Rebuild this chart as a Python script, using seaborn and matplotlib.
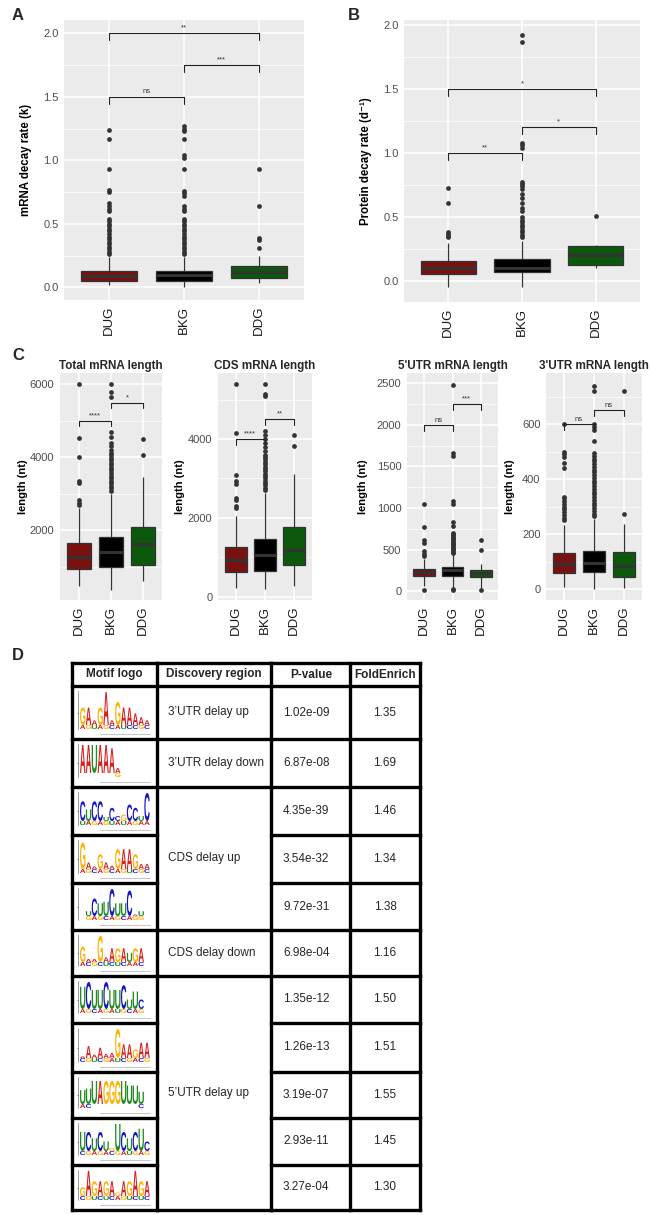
import matplotlib
matplotlib.use("Agg")
import matplotlib.pyplot as plt
import matplotlib.transforms as mtransforms
import pandas as pd
import seaborn as sns
from matplotlib.font_manager import FontProperties
from matplotlib.patches import PathPatch
from matplotlib.textpath import TextPath
from matplotlib.ticker import FormatStrFormatter, MultipleLocator

# ---------------- data ----------------
groups = ["DUG", "BKG", "DDG"]
group_colors = ["#8B0000", "#000000", "#006400"]

# box stats per group: [whisker low, q1, median, q3, whisker high] + outliers
mrna_decay_box = [[0.02, 0.05, 0.089, 0.131, 0.24],
                  [0.005, 0.052, 0.094, 0.131, 0.24],
                  [0.035, 0.071, 0.123, 0.165, 0.25]]
mrna_decay_out = [[0.26, 0.28, 0.30, 0.32, 0.34, 0.36, 0.38, 0.40, 0.42, 0.44, 0.46, 0.48, 0.50,
                   0.52, 0.54, 0.60, 0.62, 0.64, 0.66, 0.75, 0.77, 0.93, 1.17, 1.24],
                  [0.26, 0.28, 0.30, 0.32, 0.34, 0.36, 0.38, 0.40, 0.42, 0.44, 0.46, 0.48, 0.50,
                   0.52, 0.54, 0.60, 0.62, 0.64, 0.72, 0.74, 0.76, 0.93, 1.02, 1.04, 1.17,
                   1.23, 1.25, 1.27],
                  [0.31, 0.37, 0.385, 0.64, 0.93]]

protein_decay_box = [[-0.044, 0.055, 0.104, 0.159, 0.30],
                     [-0.05, 0.068, 0.104, 0.169, 0.31],
                     [0.099, 0.125, 0.203, 0.275, 0.285]]
protein_decay_out = [[0.34, 0.355, 0.37, 0.385, 0.61, 0.73],
                     [0.34, 0.36, 0.38, 0.40, 0.42, 0.44, 0.46, 0.48, 0.50, 0.55, 0.57, 0.61,
                      0.65, 0.68, 0.72, 0.74, 0.76, 0.77, 1.04, 1.06, 1.08, 1.87, 1.92],
                     [0.51]]

total_len_box = [[470, 950, 1277, 1644, 2600],
                 [365, 1003, 1414, 1825, 3000],
                 [620, 1050, 1625, 2100, 3470]]
total_len_out = [[2700, 2760, 2830, 3300, 3340, 4000, 4520, 6000],
                 [3080, 3150, 3220, 3290, 3360, 3430, 3500, 3570, 3640, 3710, 3780, 3850,
                  3920, 3990, 4060, 4130, 4200, 4300, 4400, 4550, 4700, 5650, 5800, 6000],
                 [4070, 4490]]

cds_len_box = [[212, 620, 935, 1258, 2050],
               [187, 663, 1054, 1462, 2640],
               [272, 800, 1190, 1760, 3100]]
cds_len_out = [[2250, 2300, 2450, 2500, 2870, 2930, 3080, 4150, 5400],
               [2700, 2760, 2820, 2880, 2940, 3000, 3060, 3120, 3180, 3240, 3300, 3360,
                3420, 3480, 3540, 3600, 3700, 3800, 3900, 4000, 4100, 4200, 5100, 5150, 5400],
               [3825, 4097]]

utr5_len_box = [[60, 180, 224, 264, 380],
                [30, 184, 252, 288, 440],
                [40, 164, 212, 252, 330]]
utr5_len_out = [[15, 420, 450, 480, 580, 612, 770, 1050],
                [10, 20, 460, 475, 490, 505, 520, 535, 550, 565, 580, 595, 610, 625, 640,
                 655, 670, 685, 700, 780, 830, 1050, 1080, 1630, 1660, 2480],
                [15, 500, 620]]

utr3_len_box = [[10, 58, 91, 131, 235],
                [0, 62, 97, 140, 255],
                [4, 46, 85, 136, 236]]
utr3_len_out = [[250, 260, 270, 280, 290, 300, 310, 320, 330, 335, 440, 460, 480, 490, 500, 600],
                [265, 275, 285, 295, 305, 315, 325, 335, 345, 355, 365, 375, 385, 395, 405,
                 415, 425, 435, 445, 455, 465, 475, 485, 495, 540, 580, 590, 600, 720, 740],
                [275, 720]]

# significance brackets: (group a, group b), height, label
mrna_decay_sig = [((0, 1), 1.5, "ns"), ((1, 2), 1.75, "***"), ((0, 2), 2.0, "**")]
protein_decay_sig = [((0, 1), 1.0, "**"), ((1, 2), 1.2, "*"), ((0, 2), 1.5, "*")]
total_len_sig = [((0, 1), 5000, "****"), ((1, 2), 5500, "*")]
cds_len_sig = [((0, 1), 4000, "****"), ((1, 2), 4500, "**")]
utr5_len_sig = [((0, 1), 2000, "ns"), ((1, 2), 2250, "***")]
utr3_len_sig = [((0, 1), 600, "ns"), ((1, 2), 650, "ns")]

# table D
regions = ["3\u2019UTR delay up", "3\u2019UTR delay down", "CDS delay up",
           "CDS delay down", "5\u2019UTR delay up"]
region_span = [1, 1, 3, 1, 5]
pvalues = ["1.02e-09", "6.87e-08", "4.35e-39", "3.54e-32", "9.72e-31", "6.98e-04",
           "1.35e-12", "1.26e-13", "3.19e-07", "2.93e-11", "3.27e-04"]
fold_enrich = ["1.35", "1.69", "1.46", "1.34", "1.38", "1.16",
               "1.50", "1.51", "1.55", "1.45", "1.30"]
motif_letters = ["GAAGAAGAAAAA", "AAUAAAA", "CUCCUCCGCCUC", "GAAGAAGAAGAA",
                 " UCUUCUUCAUC", "GAAGAAGAUGA", "UCUUCUUCUUC", "AAAAAAGAAGAA",
                 "UUUAGGGUUUU", "UCUCUGUCUCUC", "GAGAGAGAGAGA"]
motif_heights = [[.45, .45, .12, .45, .85, .12, .6, .45, .45, .3, .2, .12],
                 [.85, .85, .85, .85, .85, .75, .15],
                 [.6, .35, .6, .6, .12, .4, .15, .2, .5, .4, .15, .85],
                 [.8, .2, .08, .45, .2, .1, .6, .6, .6, .45, .15, .15],
                 [0, .15, .55, .4, .45, .85, .4, .4, .8, .05, .15, .25],
                 [.5, .1, .1, .85, .15, .45, .45, .45, .3, .45, .45],
                 [.7, .85, .6, .6, .85, .6, .6, .75, .3, .55, .3],
                 [.05, .35, .1, .3, .12, .15, .85, .4, .4, .25, .45, .45],
                 [.45, .5, .75, .75, .75, .75, .75, .75, .6, .6, .4],
                 [.6, .6, .4, .6, .3, .1, .85, .6, .4, .6, .7, .3],
                 [.3, .85, .5, .5, .5, .5, .12, .5, .5, .85, .5, .5]]
motif_sub = ["AGUAGCAUCCGC", "      G", "UAGAGUAUAGAA", "AGCAGCAGUCGC",
             " GAGCAGCAGG", "ACGCUCUCAAC", "AGCAGAUGCAG", "CGUCGAUCGACG",
             "AC        C", "CGAGACGAUGAG", "CGUCUCAGUCUC"]
nt_colors = {"A": "#D81E1E", "C": "#1515C8", "G": "#FFB000", "U": "#1E8C1E"}

# ---------------- layout helpers ----------------
W, H = 650, 1215
sns.set_theme(style="darkgrid")
plt.rcParams["font.family"] = ["Liberation Sans", "DejaVu Sans"]
fig = plt.figure(figsize=(W / 100, H / 100), dpi=100)
fig.patch.set_facecolor("white")


def px_axes(l, t, r, b):
    return fig.add_axes([l / W, 1 - b / H, (r - l) / W, (b - t) / H])


def box_frame(stats, outliers, rep=100):
    # repeat the quartile values so seaborn's quantiles land exactly on them
    rows = []
    for g, (lo, q1, med, q3, hi), out in zip(groups, stats, outliers):
        vals = [lo, hi] + [q1] * rep + [med] * rep + [q3] * rep + list(out)
        rows += [(g, v) for v in vals]
    return pd.DataFrame(rows, columns=["group", "value"])


def draw_panel(ax, stats, outliers, sig, ylim, step, ylabel, label_x, label_size,
               fmt=None, title=None):
    df = box_frame(stats, outliers)
    sns.boxplot(data=df, x="group", y="value", hue="group", order=groups, hue_order=groups,
                palette=group_colors, legend=False, width=0.75, linecolor="#333333",
                linewidth=0.9, fliersize=2.4, showcaps=False,
                medianprops=dict(linewidth=2.2),
                flierprops=dict(marker="o", markerfacecolor="#333333",
                                markeredgecolor="#333333"), ax=ax)
    span = ylim[1] - ylim[0]
    for (a, b), y, lab in sig:
        tip = 0.025 * span
        ax.plot([a, a, b, b], [y - tip, y, y, y - tip], color="#222222", lw=0.8)
        ax.text((a + b) / 2, y + 0.006 * span, lab, ha="center", va="bottom",
                fontsize=5.5, color="#333333")
    ax.set_xlim(-0.6, 2.6)
    ax.set_ylim(ylim)
    ax.set_facecolor("#EBEBEB")
    ax.yaxis.set_major_locator(MultipleLocator(step))
    ax.yaxis.set_minor_locator(MultipleLocator(step / 2))
    if fmt:
        ax.yaxis.set_major_formatter(FormatStrFormatter(fmt))
    ax.grid(which="major", color="white", lw=1.1)
    ax.grid(which="minor", axis="y", color="white", lw=0.5)
    ax.set_axisbelow(True)
    for s in ax.spines.values():
        s.set_visible(False)
    ax.tick_params(axis="both", which="major", length=2.5, color="#333333", width=0.8)
    ax.tick_params(axis="y", which="minor", length=0)
    ax.tick_params(axis="y", labelsize=8, labelcolor="#4D4D4D", pad=1.5)
    ax.tick_params(axis="x", labelsize=9.5, labelcolor="#1A1A1A", rotation=90, pad=1.5)
    ax.set_xlabel("")
    ax.set_ylabel(ylabel, fontsize=label_size, fontweight="bold", color="black")
    ax.yaxis.set_label_coords(label_x, 0.5)
    if title:
        ax.set_title(title, fontsize=8.4, fontweight="bold", pad=3)


# ---------------- panels A and B ----------------
axA = px_axes(64, 20, 304, 300)
draw_panel(axA, mrna_decay_box, mrna_decay_out, mrna_decay_sig, (-0.1, 2.105), 0.5,
           "mRNA decay rate (k)", (32 - 64) / 240, 8.3, fmt="%.1f")
axB = px_axes(404, 20, 640, 302)
draw_panel(axB, protein_decay_box, protein_decay_out, protein_decay_sig, (-0.164, 2.039), 0.5,
           "Protein decay rate (d\u207b\u00b9)", (372 - 404) / 236, 8.3, fmt="%.1f")

# ---------------- panel C ----------------
axC1 = px_axes(60, 373, 162, 600)
draw_panel(axC1, total_len_box, total_len_out, total_len_sig, (90, 6310), 2000,
           "length (nt)", (28 - 60) / 102, 8, title="Total mRNA length")
axC2 = px_axes(218, 373, 312, 600)
draw_panel(axC2, cds_len_box, cds_len_out, cds_len_sig, (-84, 5673), 2000,
           "length (nt)", (185 - 218) / 94, 8, title="CDS mRNA length")
axC3 = px_axes(407, 373, 498, 600)
draw_panel(axC3, utr5_len_box, utr5_len_out, utr5_len_sig, (-108, 2625), 500,
           "length (nt)", (368 - 407) / 91, 8, title="5'UTR mRNA length")
axC4 = px_axes(546, 373, 642, 600)
draw_panel(axC4, utr3_len_box, utr3_len_out, utr3_len_sig, (-39, 786), 200,
           "length (nt)", (515 - 546) / 96, 8, title="3'UTR mRNA length")

# ---------------- panel D table ----------------
tab = fig.add_axes([0, 0, 1, 1])
tab.set_xlim(0, W)
tab.set_ylim(H, 0)
tab.axis("off")
tab.patch.set_alpha(0)

for lab, (x, y) in zip("ABCD", [(12, 15), (348, 15), (12, 355), (12, 655)]):
    tab.text(x, y, lab, fontsize=12, fontweight="bold", ha="left", va="center")

col_x = [72, 157, 271, 350, 420]
row_y = [663, 686, 739, 787, 835, 883, 930, 976, 1023, 1072, 1118, 1165, 1210]
lw = 2.4
for x in col_x:
    tab.plot([x, x], [row_y[0], row_y[-1]], color="black", lw=lw, solid_capstyle="projecting")
for y in row_y:
    tab.plot([col_x[2], col_x[4]], [y, y], color="black", lw=lw, solid_capstyle="projecting")
    tab.plot([col_x[0], col_x[1]], [y, y], color="black", lw=lw, solid_capstyle="projecting")
# region column only splits between groups
bounds = [0, 1]
for n in region_span:
    bounds.append(bounds[-1] + n)
for i in bounds:
    tab.plot([col_x[1], col_x[2]], [row_y[i], row_y[i]], color="black", lw=lw,
             solid_capstyle="projecting")

hdr_y = (row_y[0] + row_y[1]) / 2
for txt, x, ha in [("Motif logo", 114, "center"), ("Discovery region", 214, "center"),
                   ("P-value", 290, "left"), ("FoldEnrich", 385, "center")]:
    tab.text(x, hdr_y, txt, fontsize=8.5, fontweight="bold", ha=ha, va="center")

for k, txt in enumerate(regions):
    y = (row_y[bounds[k + 1]] + row_y[bounds[k + 2]]) / 2
    tab.text(168, y, txt, fontsize=8.5, ha="left", va="center")

for i, (p, f) in enumerate(zip(pvalues, fold_enrich)):
    y = (row_y[i + 1] + row_y[i + 2]) / 2
    tab.text(283, y, p, fontsize=8.5, ha="left", va="center")
    tab.text(385, y, f, fontsize=8.5, ha="center", va="center")

logo_font = FontProperties(family="Liberation Sans", weight="bold")


def draw_letter(ax, ch, x, y_base, w, h, color):
    tp = TextPath((0, 0), ch, size=1, prop=logo_font)
    bb = tp.get_extents()
    t = (mtransforms.Affine2D().translate(-bb.x0, -bb.y0)
         .scale(w / bb.width, -h / bb.height).translate(x, y_base))
    ax.add_patch(PathPatch(t.transform_path(tp), fc=color, ec="none"))


for i, (letters, heights, subs) in enumerate(zip(motif_letters, motif_heights, motif_sub)):
    top, bot = row_y[i + 1], row_y[i + 2]
    base = bot - 14
    full = (base - top - 5) / 0.88
    tab.plot([78, 78], [top + 5, bot - 10], color="#777777", lw=0.5)
    tab.plot([76.5, 78], [(top + bot) / 2, (top + bot) / 2], color="#777777", lw=0.5)
    tab.plot([100, 150], [bot - 5, bot - 5], color="#BBBBBB", lw=0.6)
    for j, (ch, h, s) in enumerate(zip(letters, heights, subs)):
        x = 80 + j * 5.85
        if s != " ":
            draw_letter(tab, s, x, base + 4, 5.4, 4, nt_colors[s])
        if ch != " " and h > 0:
            draw_letter(tab, ch, x, base, 5.4, h * full, nt_colors[ch])

fig.savefig("out.png", dpi=100, facecolor="white")
